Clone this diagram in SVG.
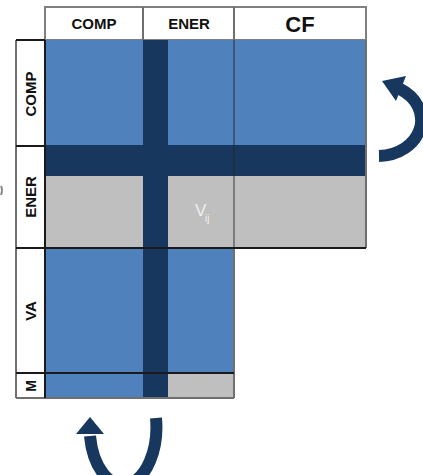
<svg xmlns="http://www.w3.org/2000/svg" width="423" height="475" viewBox="0 0 423 475">
  <style>
    .blue { fill: #4f81bd; }
    .dark { fill: #17375e; }
    .grey { fill: #bfbfbf; }
    .hdr { fill: #ffffff; stroke: #7f7f7f; stroke-width: 2; }
    .rule { stroke: #1a1a1a; stroke-width: 2; fill: none; }
    .edge { stroke: #6f6f6f; stroke-width: 2; fill: none; }
    .split { stroke: #2a2a2a; stroke-opacity: 0.6; stroke-width: 1.5; fill: none; }
    .lbl { font-family: "Liberation Sans", Arial, sans-serif; font-weight: bold; fill: #111111; text-anchor: middle; }
    .arrow { stroke: #17375e; stroke-width: 12; fill: none; }
    .head { fill: #17375e; }
  </style>

  <!-- column headers -->
  <g id="col-headers">
    <rect class="hdr" x="45" y="7" width="321" height="33"/>
    <line class="edge" x1="143" y1="7" x2="143" y2="40"/>
    <line class="edge" x1="234" y1="7" x2="234" y2="40"/>
    <text class="lbl" x="94" y="29" font-size="15">COMP</text>
    <text class="lbl" x="189" y="29" font-size="15">ENER</text>
    <text class="lbl" x="300" y="32" font-size="22">CF</text>
  </g>

  <!-- row headers -->
  <g id="row-headers">
    <rect x="16" y="40" width="29" height="358" fill="#ffffff"/>
    <text class="lbl" font-size="15" transform="translate(36,94) rotate(-90)">COMP</text>
    <text class="lbl" font-size="15" transform="translate(36,197) rotate(-90)">ENER</text>
    <text class="lbl" font-size="15" transform="translate(36,311) rotate(-90)">VA</text>
    <text class="lbl" font-size="14" transform="translate(36,386) rotate(-90)">M</text>
  </g>

  <!-- matrix blocks -->
  <g id="block-comp">
    <rect class="blue" x="45" y="40" width="321" height="105"/>
  </g>
  <g id="block-ener">
    <rect class="grey" x="45" y="176" width="321" height="72"/>
  </g>
  <g id="block-va">
    <rect class="blue" x="45" y="248" width="189" height="125"/>
  </g>
  <g id="block-m">
    <rect class="blue" x="45" y="373" width="98" height="25"/>
    <rect class="grey" x="168" y="373" width="66" height="25"/>
  </g>

  <!-- highlighted row and column -->
  <g id="band-row">
    <rect class="dark" x="45" y="145" width="321" height="31"/>
  </g>
  <g id="band-col">
    <rect class="dark" x="143" y="40" width="25" height="358"/>
  </g>

  <!-- cell label -->
  <g id="cell-vij">
    <text x="195" y="216" font-family="Liberation Sans, Arial, sans-serif" font-size="17" fill="#eeeeee">V</text>
    <text x="205" y="222" font-family="Liberation Sans, Arial, sans-serif" font-size="10" fill="#eeeeee">ij</text>
  </g>

  <!-- grid lines -->
  <g id="grid">
    <line class="split" x1="234" y1="40" x2="234" y2="248"/>
    <line class="edge" x1="366" y1="40" x2="366" y2="248"/>
    <line class="edge" x1="234" y1="248" x2="234" y2="398"/>
    <line class="edge" x1="16" y1="398" x2="234" y2="398"/>
    <line class="edge" x1="16" y1="40" x2="16" y2="398"/>
    <line class="rule" x1="16" y1="40" x2="45" y2="40"/>
    <line class="rule" x1="45" y1="40" x2="45" y2="398"/>
    <line class="rule" x1="16" y1="146" x2="45" y2="146"/>
    <line class="rule" x1="16" y1="248" x2="366" y2="248"/>
    <line class="rule" x1="16" y1="373" x2="234" y2="373"/>
  </g>

  <!-- iteration arrows -->
  <g id="connectors">
    <path class="arrow" stroke-width="13" d="M 379 156 A 43 36 0 0 0 400 89"/>
    <polygon class="head" points="382,81 406,76 396,101"/>
    <path class="arrow" d="M 156 418 A 33 57 0 0 1 90 436"/>
    <polygon class="head" points="90,417 76,434 104,434"/>
    <path d="M 1 186 Q 3 190 1 195" stroke="#8a8a8a" stroke-width="2" fill="none"/>
  </g>
</svg>
